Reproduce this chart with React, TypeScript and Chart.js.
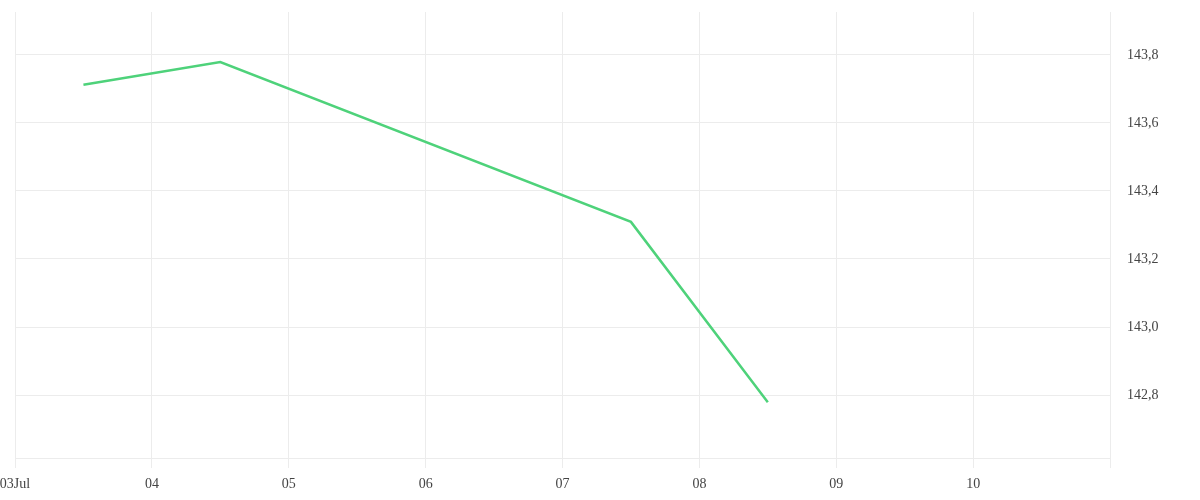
import React, { useEffect, useRef } from "react";
import { Chart, registerables } from "chart.js";

Chart.register(...registerables);

// Day-of-July positions (x) and values (y)
const dayPositions = [3.5, 4.5, 7.5, 8.5];
const priceValues = [143.712, 143.779, 143.309, 142.779];
const xTickDays = [3, 4, 5, 6, 7, 8, 9, 10, 11];
const xTickLabels = ["03Jul", "04", "05", "06", "07", "08", "09", "10", ""];
const yTickValues = [142.8, 143.0, 143.2, 143.4, 143.6, 143.8];
const yMin = 142.615;
const yMax = 143.926;

const GRID = "#ececec";
const FONT = { family: "'Liberation Serif', serif", size: 14 };

export default function App() {
  const ref = useRef<HTMLCanvasElement | null>(null);

  useEffect(() => {
    document.body.style.margin = "0";
    const ctx = ref.current!;
    const chart = new Chart(ctx, {
      type: "line",
      data: {
        datasets: [
          {
            data: dayPositions.map((d, i) => ({ x: d, y: priceValues[i] })),
            borderColor: "#4ed27a",
            borderWidth: 2.5,
            pointRadius: 0,
            tension: 0,
            fill: false,
          },
        ],
      },
      options: {
        animation: false,
        responsive: false,
        maintainAspectRatio: false,
        layout: { padding: { left: 15, top: 12, right: 0, bottom: 0 } },
        plugins: { legend: { display: false }, tooltip: { enabled: false } },
        scales: {
          x: {
            type: "linear",
            min: xTickDays[0],
            max: xTickDays[xTickDays.length - 1],
            afterBuildTicks: (scale: any) => {
              scale.ticks = xTickDays.map((v) => ({ value: v }));
            },
            afterFit: (scale: any) => {
              scale.height = 42;
              scale.paddingLeft = 0;
              scale.paddingRight = 0;
            },
            ticks: {
              autoSkip: false,
              maxRotation: 0,
              color: "#444",
              font: FONT,
              padding: 8,
              callback: (v: any) => xTickLabels[xTickDays.indexOf(Number(v))] ?? "",
            },
            grid: { color: GRID, tickLength: 10, drawTicks: true },
            border: { display: true, color: GRID },
          },
          y: {
            position: "right",
            min: yMin,
            max: yMax,
            afterBuildTicks: (scale: any) => {
              scale.ticks = yTickValues.map((v) => ({ value: v }));
            },
            afterFit: (scale: any) => {
              scale.width = 90;
              scale.paddingTop = 0;
              scale.paddingBottom = 0;
            },
            ticks: {
              color: "#444",
              font: FONT,
              padding: 17,
              callback: (v: any) => Number(v).toFixed(1).replace(".", ","),
            },
            grid: { color: GRID, drawTicks: false },
            border: { display: true, color: GRID },
          },
        },
      },
    });
    return () => chart.destroy();
  }, []);

  return (
    <div style={{ width: 1200, height: 500 }}>
      <canvas ref={ref} width={1200} height={500} style={{ display: "block" }} />
    </div>
  );
}
